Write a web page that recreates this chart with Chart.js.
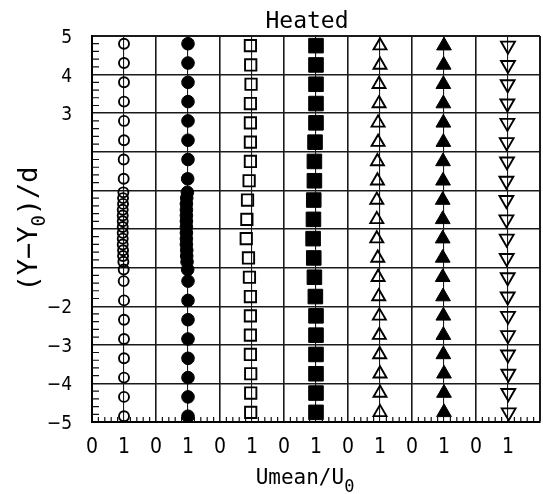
<!DOCTYPE html>
<html lang="en">
<head>
<meta charset="UTF-8" />
<title>Heated</title>
<script src="https://cdn.jsdelivr.net/npm/chart.js"></script>
<style>
  html, body { margin: 0; padding: 0; background: #fff; }
  #wrap { width: 543px; height: 494px; }
</style>
</head>
<body>
<div id="wrap"><canvas id="chart"></canvas></div>
<script>
  // Measuring stations, (Y - Y0)/d
  const yFine = [4.8, 4.3, 3.8, 3.3, 2.8, 2.3, 1.8, 1.3,
    0.95, 0.8, 0.65, 0.5, 0.35, 0.2, 0.05, -0.1, -0.25, -0.4, -0.55, -0.7, -0.85, -1.05,
    -1.35, -1.85, -2.35, -2.85, -3.35, -3.85, -4.35, -4.85];
  const yCoarse = [4.75, 4.25, 3.75, 3.25, 2.75, 2.25, 1.75, 1.25, 0.75, 0.25,
    -0.25, -0.75, -1.25, -1.75, -2.25, -2.75, -3.25, -3.75, -4.25, -4.75];

  // Umean/U0 for each profile (one panel each)
  const openCircle = [1.0, 1.0, 1.0, 1.0, 1.0, 1.0, 0.99, 0.99,
    0.98, 0.97, 0.97, 0.96, 0.96, 0.96, 0.96, 0.96, 0.96, 0.96, 0.97, 0.97, 0.98, 0.99,
    0.99, 1.0, 1.0, 1.0, 1.0, 1.0, 1.0, 1.0];
  const filledCircle = [1.0, 1.0, 1.0, 1.0, 1.0, 1.0, 1.0, 0.99,
    0.98, 0.96, 0.95, 0.95, 0.95, 0.95, 0.95, 0.95, 0.95, 0.95, 0.96, 0.96, 0.97, 0.99,
    1.0, 1.0, 1.0, 1.0, 1.0, 1.0, 1.0, 1.0];
  const openSquare = [0.95, 0.96, 0.97, 0.95, 0.95, 0.95, 0.95, 0.91, 0.86, 0.84,
    0.82, 0.89, 0.92, 0.95, 0.95, 0.95, 0.95, 0.96, 0.96, 0.96];
  const filledSquare = [1.0, 1.0, 1.0, 1.0, 1.0, 0.97, 0.95, 0.95, 0.93, 0.92,
    0.91, 0.93, 0.95, 0.98, 1.0, 1.0, 1.0, 1.0, 1.0, 1.0];
  const openTriUp = [1.0, 1.0, 0.97, 0.97, 0.94, 0.94, 0.92, 0.92, 0.9, 0.9,
    0.9, 0.93, 0.94, 0.96, 0.98, 0.98, 0.99, 1.0, 1.0, 1.0];
  const filledTriUp = [1.0, 0.99, 0.98, 0.98, 0.98, 0.98, 0.97, 0.97, 0.96, 0.96,
    0.96, 0.96, 0.96, 0.97, 0.98, 0.98, 0.98, 1.0, 1.0, 1.0];
  const openTriDown = [1.0, 1.0, 0.99, 0.98, 0.98, 0.96, 0.97, 0.95, 0.95, 0.95,
    0.96, 0.96, 0.99, 0.99, 1.0, 1.0, 1.0, 1.01, 1.01, 1.02];

  // tick labels
  const yLabelValues = [5, 4, 3, -2, -3, -4, -5];
  const xTickText = ['0', '1'];

  const PANEL = 2; // each profile gets 0..2 on the shared x axis
  const NARROW = "'Liberation Sans Narrow', 'DejaVu Sans Condensed', 'Roboto Condensed', 'Liberation Sans', sans-serif";
  const MONO = "'DejaVu Sans Mono', 'Liberation Mono', monospace";

  const profiles = [
    { u: openCircle, y: yFine, style: 'circle', filled: false, r: 5 },
    { u: filledCircle, y: yFine, style: 'circle', filled: true, r: 6.3 },
    { u: openSquare, y: yCoarse, style: 'rect', filled: false, r: 8 },
    { u: filledSquare, y: yCoarse, style: 'rect', filled: true, r: 10.3 },
    { u: openTriUp, y: yCoarse, style: 'triangle', filled: false, r: 7.5, rot: 0 },
    { u: filledTriUp, y: yCoarse, style: 'triangle', filled: true, r: 8.5, rot: 0 },
    { u: openTriDown, y: yCoarse, style: 'triangle', filled: false, r: 8, rot: 180 }
  ];

  const datasets = profiles.map((p, i) => ({
    data: p.u.map((u, k) => ({ x: i * PANEL + u, y: p.y[k] })),
    pointStyle: p.style,
    pointRadius: p.r,
    pointRotation: p.rot || 0,
    pointBackgroundColor: p.filled ? '#000' : 'rgba(0,0,0,0)',
    pointBorderColor: '#000',
    pointBorderWidth: p.filled ? 1 : 1.9,
    showLine: false
  }));

  // small inward ticks every 0.2 on the left and bottom axes
  const minorTicks = {
    id: 'minorTicks',
    beforeDatasetsDraw(chart) {
      const { ctx, chartArea, scales } = chart;
      ctx.save();
      ctx.strokeStyle = '#111';
      ctx.lineWidth = 1.2;
      ctx.beginPath();
      for (let v = -50; v <= 50; v += 2) {
        if (v % 10 === 0) continue;
        const py = scales.y.getPixelForValue(v / 10);
        ctx.moveTo(chartArea.left, py);
        ctx.lineTo(chartArea.left + 7, py);
      }
      for (let v = 0; v <= 140; v += 2) {
        if (v % 10 === 0) continue;
        const px = scales.x.getPixelForValue(v / 10);
        ctx.moveTo(px, chartArea.bottom);
        ctx.lineTo(px, chartArea.bottom - 5);
      }
      ctx.stroke();
      ctx.restore();
    }
  };

  // title and axis titles with subscripts
  function drawSub(ctx, parts, x, y) {
    let w = 0;
    parts.forEach(p => { ctx.font = p.font; w += ctx.measureText(p.t).width; });
    let cx = x - w / 2;
    parts.forEach(p => {
      ctx.font = p.font;
      ctx.fillText(p.t, cx, y + (p.dy || 0));
      cx += ctx.measureText(p.t).width;
    });
  }

  const titles = {
    id: 'titles',
    afterDraw(chart) {
      const { ctx } = chart;
      ctx.save();
      ctx.fillStyle = '#000';
      ctx.textBaseline = 'alphabetic';
      ctx.textAlign = 'left';
      drawSub(ctx, [{ t: 'Heated', font: '23px ' + MONO }], 307, 28);
      drawSub(ctx, [
        { t: 'Umean/U', font: '21px ' + MONO },
        { t: '0', font: '17px ' + MONO, dy: 8 }
      ], 305, 484);
      ctx.translate(37, 229);
      ctx.rotate(-Math.PI / 2);
      drawSub(ctx, [
        { t: '(Y\u2212Y', font: '27px ' + MONO },
        { t: '0', font: '19px ' + MONO, dy: 8 },
        { t: ')/d', font: '27px ' + MONO }
      ], 0, 0);
      ctx.restore();
    }
  };

  new Chart(document.getElementById('chart'), {
    type: 'scatter',
    data: { datasets },
    plugins: [minorTicks, titles],
    options: {
      responsive: true,
      maintainAspectRatio: false,
      animation: false,
      layout: { autoPadding: false, padding: { left: 42, right: 3, top: 36, bottom: 32 } },
      plugins: { legend: { display: false }, tooltip: { enabled: false } },
      scales: {
        x: {
          min: 0, max: 14,
          afterFit(scale) {
            scale.height = 40;
            scale.paddingLeft = 0;
            scale.paddingRight = 0;
          },
          ticks: {
            stepSize: 1, autoSkip: false, maxRotation: 0, padding: 13,
            color: '#000', font: { family: NARROW, size: 21 },
            callback: v => (v >= 14 ? '' : xTickText[v % 2])
          },
          grid: {
            color: '#1a1a1a', drawTicks: false,
            lineWidth: c => (c.tick.value === 14 ? 2 : c.tick.value % 2 === 0 ? 1.6 : 1.1)
          },
          border: { color: '#000', width: 2 }
        },
        y: {
          min: -5, max: 5,
          afterFit(scale) {
            scale.width = 50;
            scale.paddingTop = 0;
            scale.paddingBottom = 0;
          },
          ticks: {
            stepSize: 1, padding: 20, labelOffset: 2,
            color: '#000', font: { family: NARROW, size: 19 },
            callback: v => (yLabelValues.includes(v) ? String(v).replace('-', '\u2212') : '')
          },
          grid: {
            color: '#1a1a1a', drawTicks: false,
            lineWidth: c => (c.tick.value === 5 ? 2 : 1.4)
          },
          border: { color: '#000', width: 2 }
        }
      }
    }
  });
</script>
</body>
</html>
